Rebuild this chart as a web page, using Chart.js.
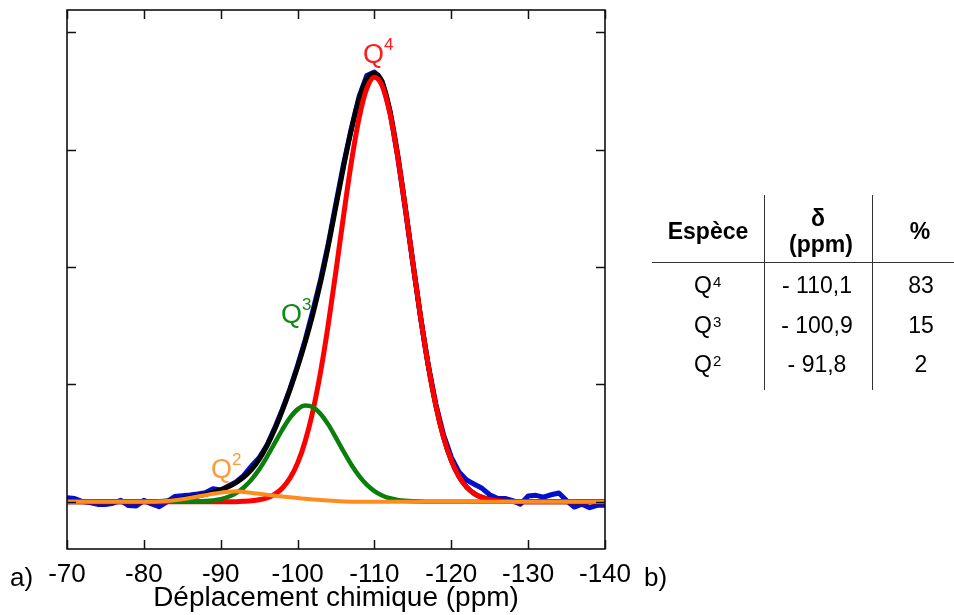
<!DOCTYPE html>
<html>
<head>
<meta charset="utf-8">
<script src="https://cdn.jsdelivr.net/npm/chart.js@4/dist/chart.umd.min.js"></script>
<style>
  html, body { margin: 0; padding: 0; background: #ffffff; }
  #wrap { width: 954px; height: 615px; position: relative; }
  canvas { display: block; }
</style>
</head>
<body>
<div id="wrap"><canvas id="c" width="954" height="615"></canvas></div>
<script>
// ---- data ----
const ppm = [-70,-71,-72,-73,-74,-75,-76,-77,-78,-79,-80,-81,-82,-83,-84,-85,-86,-87,-88,-89,
  -90,-91,-92,-93,-94,-95,-96,-97,-98,-99,-100,-101,-102,-103,-104,-105,-106,-107,-108,-109,
  -110,-111,-112,-113,-114,-115,-116,-117,-118,-119,-120,-121,-122,-123,-124,-125,-126,-127,-128,-129,
  -130,-131,-132,-133,-134,-135,-136,-137,-138,-139,-140];

const experimental = [0.035,0.028,0.002,-0.006,-0.022,-0.024,-0.012,0.012,-0.032,-0.036,
  0.012,-0.018,-0.042,0.000,0.045,0.052,0.058,0.066,0.078,0.112,
  0.100,0.135,0.170,0.225,0.305,0.375,0.480,0.625,0.785,0.960,
  1.160,1.380,1.630,1.895,2.200,2.545,2.880,3.180,3.450,3.630,
  3.660,3.580,3.330,2.950,2.500,2.030,1.570,1.165,0.830,0.570,
  0.380,0.255,0.185,0.150,0.115,0.060,0.030,0.028,0.010,-0.020,
  0.050,0.055,0.040,0.060,0.075,0.010,-0.045,-0.020,-0.050,-0.030,-0.030];

const fitTotal = [0,0,0,0,0,0,0,0,0,0,0,0,
  0.002,0.006,0.013,0.022,0.034,0.048,0.063,0.080,0.101,0.129,
  0.164,0.210,0.273,0.361,0.475,0.613,0.774,0.953,1.148,1.363,
  1.601,1.872,2.181,2.520,2.860,3.170,3.430,3.600,3.650,3.575,
  3.335,2.967,2.518,2.040,1.577,1.163,0.818,0.549,0.352,0.215,
  0.125,0.070,0.037,0.019,0.009,0.004,0.002,
  0,0,0,0,0,0,0,0,0,0,0,0];

const q4 = [0,0,0,0,0,0,0,0,0,0,0,0,0,0,0,0,0,0,0,0,0,0,
  0.001,0.004,0.008,0.017,0.034,0.064,0.116,0.200,0.329,0.518,
  0.776,1.109,1.514,1.969,2.444,2.893,3.267,3.518,3.615,3.542,
  3.311,2.951,2.510,2.036,1.575,1.162,0.818,0.549,0.352,0.215,
  0.125,0.070,0.037,0.019,0.009,0.004,0.002,
  0,0,0,0,0,0,0,0,0,0,0,0];

const q3 = [0,0,0,0,0,0,0,0,0,0,0,0,0,0,0,0,
  0.001,0.003,0.006,0.012,0.023,0.043,0.074,0.122,0.189,0.276,
  0.381,0.497,0.613,0.715,0.787,0.819,0.805,0.748,0.657,0.545,
  0.427,0.316,0.221,0.146,0.091,0.054,0.030,0.016,0.008,0.004,
  0.002,0.001,
  0,0,0,0,0,0,0,0,0,0,0,0,0,0,0,0,0,0,0,0,0,0,0];

const q2 = [0,0,0,0,0,0,0,0,0,0,0,0,
  0.002,0.006,0.013,0.022,0.033,0.045,0.057,0.068,0.078,0.086,
  0.089,0.084,0.076,0.068,0.060,0.052,0.045,0.038,0.032,0.026,
  0.020,0.015,0.010,0.006,0.003,0.001,
  0,0,0,0,0,0,0,0,0,0,0,0,0,0,0,0,0,0,0,0,0,0,0,0,0,0,0,0,0,0,0,0,0];

const xTickValues = [-70,-80,-90,-100,-110,-120,-130,-140];
const yTickValues = [0,1,2,3,4];

const tableHeader = ["Espèce", "δ", "(ppm)", "%"];
const tableSpecies = ["Q", "Q", "Q"];
const tableSup = ["4", "3", "2"];
const tableShift = ["- 110,1", "- 100,9", "- 91,8"];
const tablePercent = ["83", "15", "2"];

const peakLabels = [
  {sup: "4", color: "#ff1c1c"},
  {sup: "3", color: "#138a13"},
  {sup: "2", color: "#ff9a3c"}
];

const FONT = "'Liberation Sans', Arial, Helvetica, sans-serif";
const toXY = arr => ppm.map((x, i) => ({x: x, y: arr[i]}));

const framePlugin = {
  id: 'frame',
  afterDraw(chart) {
    const ctx = chart.ctx;
    const a = chart.chartArea;
    const xs = chart.scales.x, ys = chart.scales.y;
    ctx.save();
    // frame
    ctx.strokeStyle = '#000';
    ctx.lineWidth = 1.5;
    ctx.strokeRect(a.left, a.top, a.right - a.left, a.bottom - a.top);
    // inward ticks
    ctx.lineWidth = 1.5;
    ctx.strokeStyle = '#111';
    const tl = 9;
    ctx.beginPath();
    xTickValues.forEach(v => {
      const px = Math.round(xs.getPixelForValue(v)) + 0.5;
      ctx.moveTo(px, a.top); ctx.lineTo(px, a.top + tl);
      ctx.moveTo(px, a.bottom); ctx.lineTo(px, a.bottom - tl);
    });
    yTickValues.forEach(v => {
      const py = Math.round(ys.getPixelForValue(v)) + 0.5;
      ctx.moveTo(a.left, py); ctx.lineTo(a.left + tl, py);
      ctx.moveTo(a.right, py); ctx.lineTo(a.right - tl, py);
    });
    ctx.stroke();

    // a) b)
    ctx.fillStyle = '#000';
    ctx.font = '26px ' + FONT;
    ctx.textBaseline = 'alphabetic';
    ctx.textAlign = 'left';
    ctx.fillText('a)', 10, 586);
    ctx.fillText('b)', 644, 586);

    // peak labels
    const pos = [
      {x: 363, y: 63, sx: 384, sy: 50},
      {x: 281, y: 323, sx: 302, sy: 310},
      {x: 211, y: 478, sx: 232, sy: 465}
    ];
    peakLabels.forEach((p, i) => {
      ctx.fillStyle = p.color;
      ctx.font = '27px ' + FONT;
      ctx.fillText('Q', pos[i].x, pos[i].y);
      ctx.font = '17px ' + FONT;
      ctx.fillText(p.sup, pos[i].sx, pos[i].sy);
    });

    // table
    ctx.strokeStyle = '#333';
    ctx.lineWidth = 1;
    ctx.beginPath();
    ctx.moveTo(764.5, 195); ctx.lineTo(764.5, 390);
    ctx.moveTo(872.5, 195); ctx.lineTo(872.5, 390);
    ctx.moveTo(652, 262.5); ctx.lineTo(954, 262.5);
    ctx.stroke();

    ctx.fillStyle = '#000';
    ctx.textAlign = 'center';
    ctx.font = 'bold 23px ' + FONT;
    ctx.fillText(tableHeader[0], 708, 239);
    ctx.fillText(tableHeader[1], 818, 226);
    ctx.fillText(tableHeader[2], 821, 252);
    ctx.fillText(tableHeader[3], 920, 239);

    const rowBase = [293, 333, 372];
    rowBase.forEach((b, i) => {
      ctx.font = '23px ' + FONT;
      ctx.textAlign = 'left';
      ctx.fillText(tableSpecies[i], 694, b);
      ctx.font = '15px ' + FONT;
      ctx.fillText(tableSup[i], 713, b - 6);
      ctx.font = '23px ' + FONT;
      ctx.textAlign = 'center';
      ctx.fillText(tableShift[i], 817, b);
      ctx.fillText(tablePercent[i], 921, b);
    });
    ctx.restore();
  }
};

const lineDs = (label, arr, color, width, smooth) => ({
  label: label,
  data: toXY(arr),
  borderColor: color,
  backgroundColor: color,
  borderWidth: width,
  pointRadius: 0,
  fill: false,
  cubicInterpolationMode: smooth ? 'monotone' : 'default',
  tension: 0,
  borderJoinStyle: 'round',
  borderCapStyle: 'round'
});

new Chart(document.getElementById('c'), {
  type: 'line',
  data: {
    datasets: [
      lineDs('Q2', q2, '#ff8c1e', 4, true),
      lineDs('Q3', q3, '#0b7f0b', 4.5, true),
      lineDs('Q4', q4, '#ff0000', 5, true),
      lineDs('Ajustement', fitTotal, '#000000', 5, true),
      lineDs('Expérience', experimental, '#0010cc', 5, false)
    ]
  },
  options: {
    responsive: false,
    devicePixelRatio: 1,
    animation: false,
    layout: { padding: { left: 67, right: 349, top: 10, bottom: 0 } },
    plugins: { legend: { display: false }, tooltip: { enabled: false } },
    scales: {
      x: {
        type: 'linear',
        min: -140, max: -70, reverse: true,
        grid: { display: false, drawTicks: false },
        border: { display: false },
        ticks: {
          stepSize: 10, autoSkip: false, maxRotation: 0, padding: 10,
          color: '#000', font: { family: FONT, size: 26 },
          callback: v => String(v)
        },
        title: {
          display: true, text: 'Déplacement chimique (ppm)',
          color: '#000', font: { family: FONT, size: 28 }, padding: { top: 0, bottom: 0 }
        },
        afterFit: s => { s.height = 66; }
      },
      y: {
        type: 'linear',
        display: false,
        min: -0.402, max: 4.188
      }
    }
  },
  plugins: [framePlugin]
});
</script>
</body>
</html>
